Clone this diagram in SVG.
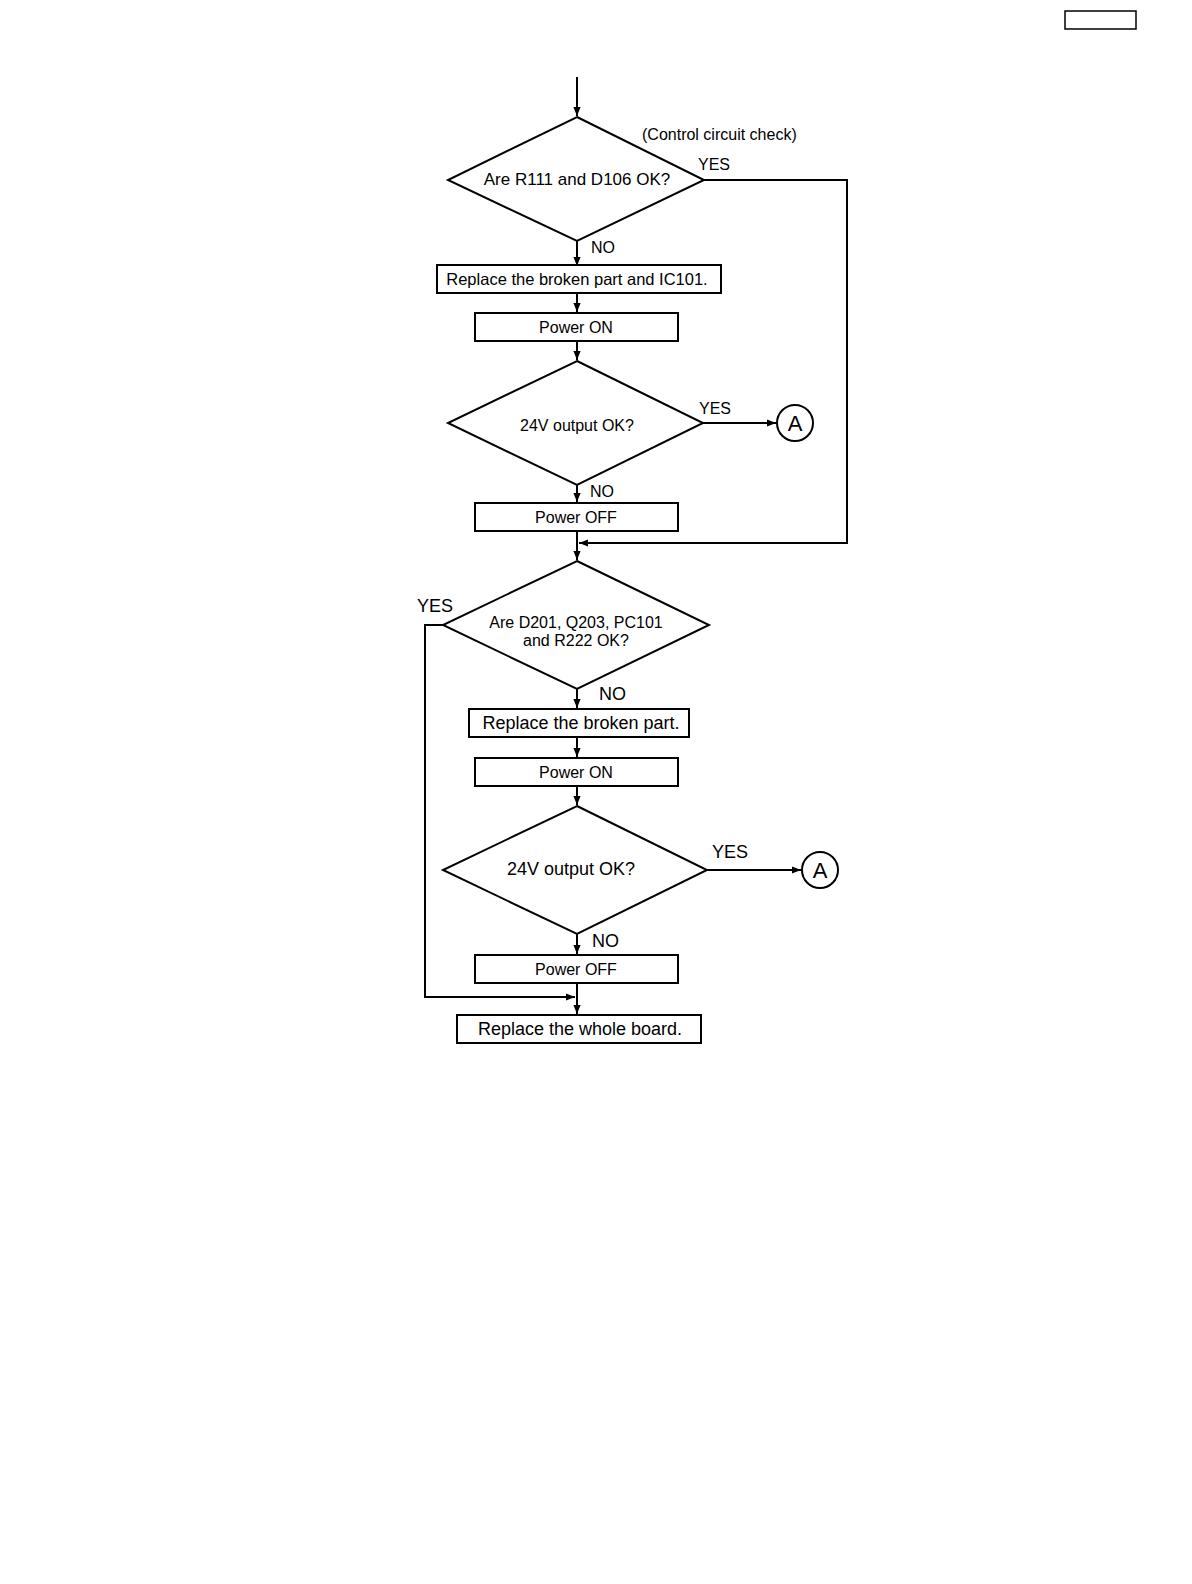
<svg xmlns="http://www.w3.org/2000/svg" width="1192" height="1584" viewBox="0 0 1192 1584">
<style>
.s{fill:none;stroke:#000;stroke-width:2}
.b{fill:#fff;stroke:#000;stroke-width:2}
text{font-family:"Liberation Sans",Arial,sans-serif;fill:#000}
.t16{font-size:16px}
.t17{font-size:17px}
.t18{font-size:18px}
.m{text-anchor:middle}
</style>
<defs>
<marker id="ah" viewBox="0 0 10 10" refX="10" refY="5" markerWidth="10" markerHeight="9" markerUnits="userSpaceOnUse" orient="auto">
<path d="M0,1 L10,5 L0,9 Z" fill="#000"/>
</marker>
</defs>
<rect x="1065" y="11" width="71" height="18" fill="none" stroke="#000" stroke-width="1.5"/>
<g id="connectors">
<path class="s" d="M577,77 L577,116" marker-end="url(#ah)"/>
<path class="s" d="M704,180 L847,180 L847,543 L579,543" marker-end="url(#ah)"/>
<path class="s" d="M577,241 L577,266" marker-end="url(#ah)"/>
<path class="s" d="M577,293 L577,312" marker-end="url(#ah)"/>
<path class="s" d="M577,341 L577,360" marker-end="url(#ah)"/>
<path class="s" d="M703,423 L776,423" marker-end="url(#ah)"/>
<path class="s" d="M577,485 L577,502" marker-end="url(#ah)"/>
<path class="s" d="M577,531 L577,560" marker-end="url(#ah)"/>
<path class="s" d="M443,625 L425,625 L425,997 L575,997" marker-end="url(#ah)"/>
<path class="s" d="M577,689 L577,708" marker-end="url(#ah)"/>
<path class="s" d="M577,737 L577,757" marker-end="url(#ah)"/>
<path class="s" d="M577,786 L577,805" marker-end="url(#ah)"/>
<path class="s" d="M707,870 L801,870" marker-end="url(#ah)"/>
<path class="s" d="M577,934 L577,954" marker-end="url(#ah)"/>
<path class="s" d="M577,983 L577,1014" marker-end="url(#ah)"/>
<text class="t16" x="642" y="140">(Control circuit check)</text>
<text class="t16" x="698" y="170">YES</text>
<text class="t16" x="591" y="253">NO</text>
<text class="t16" x="699" y="414">YES</text>
<text class="t16" x="590" y="497">NO</text>
<text class="t18" x="417" y="612">YES</text>
<text class="t18" x="599" y="700">NO</text>
<text class="t18" x="712" y="858">YES</text>
<text class="t18" x="592" y="947">NO</text>
</g>
<g id="d1">
<polygon class="b" points="577,117 704,180 577,241 448,180"/>
<text class="t17 m" x="577" y="185">Are R111 and D106 OK?</text>
</g>
<g id="b1">
<rect class="b" x="437" y="265" width="284" height="28"/>
<text class="m" x="577" y="285" style="font-size:16.5px">Replace the broken part and IC101.</text>
</g>
<g id="b2">
<rect class="b" x="475" y="313" width="203" height="28"/>
<text class="t16 m" x="576" y="333">Power ON</text>
</g>
<g id="d2">
<polygon class="b" points="577,361 703,423 577,485 448,423"/>
<text class="t16 m" x="577" y="431">24V output OK?</text>
</g>
<g id="a1">
<circle class="b" cx="795" cy="423" r="18"/>
<text class="m" x="795" y="431" style="font-size:22px">A</text>
</g>
<g id="b3">
<rect class="b" x="475" y="503" width="203" height="28"/>
<text class="t16 m" x="576" y="523">Power OFF</text>
</g>
<g id="d3">
<polygon class="b" points="577,561 709,625 577,689 443,625"/>
<text class="t16 m" x="576" y="628">Are D201, Q203, PC101</text>
<text class="t16 m" x="576" y="646">and R222 OK?</text>
</g>
<g id="b4">
<rect class="b" x="469" y="709" width="220" height="28"/>
<text class="t18 m" x="581" y="729">Replace the broken part.</text>
</g>
<g id="b5">
<rect class="b" x="475" y="758" width="203" height="28"/>
<text class="t16 m" x="576" y="778">Power ON</text>
</g>
<g id="d4">
<polygon class="b" points="577,806 707,870 577,934 443,870"/>
<text class="t18 m" x="571" y="875">24V output OK?</text>
</g>
<g id="a2">
<circle class="b" cx="820" cy="870" r="18"/>
<text class="m" x="820" y="878" style="font-size:22px">A</text>
</g>
<g id="b6">
<rect class="b" x="475" y="955" width="203" height="28"/>
<text class="t16 m" x="576" y="975">Power OFF</text>
</g>
<g id="b7">
<rect class="b" x="457" y="1015" width="244" height="28"/>
<text class="t18 m" x="580" y="1035">Replace the whole board.</text>
</g>
</svg>
